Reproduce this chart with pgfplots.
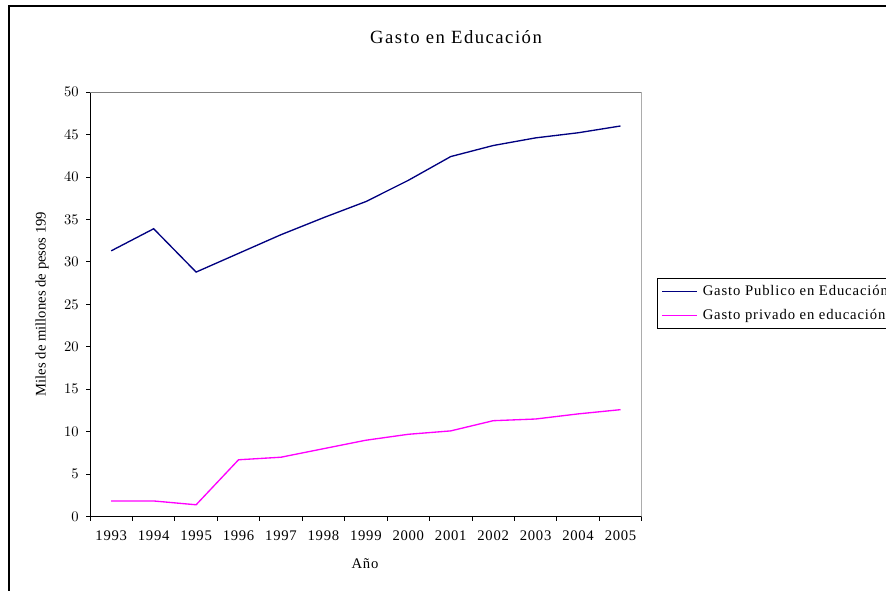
\documentclass[border=0pt]{standalone}
\usepackage{pgfplots}
\pgfplotsset{compat=1.18}
\usepackage{fontspec}
\setmainfont{Liberation Serif}
\newfontfamily\smallfont[LetterSpace=5]{Liberation Serif}
\newfontfamily\legendfont[LetterSpace=6]{Liberation Serif}
\newfontfamily\titlefont[LetterSpace=8]{Liberation Serif}

\definecolor{publico}{RGB}{0,0,128}
\definecolor{privado}{RGB}{255,0,255}
\definecolor{marco}{RGB}{128,128,128}

% legend sample: a plain line segment
\pgfplotsset{long line legend/.style={
  legend image code/.code={\draw[##1, line width=1pt] (0pt,0pt) -- (26pt,0pt);}}}

\begin{document}
\begin{tikzpicture}
\begin{scope}[x=0.75pt,y=-0.75pt]
  \useasboundingbox (0,0) rectangle (886,590);
  \clip (0,0) rectangle (886,590);
  % outer chart frame
  \draw[line width=1.1pt] (9,700) -- (9,6) -- (1000,6);
  \node[font=\titlefont\fontsize{14}{16}\selectfont] at (456,37) {Gasto en Educación};
  \node[font=\smallfont\fontsize{11}{13}\selectfont] at (365,564) {Año};
  \begin{scope}
    \clip (0,212) rectangle (80,600);
    \node[font=\rmfamily\fontsize{11}{13}\selectfont, rotate=90] at (42,304) {Miles de millones de pesos 199};
  \end{scope}
\end{scope}
\clip (0,0) rectangle (664.5pt,-442.5pt);
\begin{axis}[
  at={(67.5pt,-387.5pt)}, anchor=south west,
  scale only axis, width=413.8pt, height=318.5pt,
  xmin=0.5, xmax=13.5, ymin=0, ymax=50,
  axis x line*=bottom, axis y line*=left,
  axis line style={black, line width=0.6pt},
  xtick={1,...,13},
  xticklabels={1993,1994,1995,1996,1997,1998,1999,2000,2001,2002,2003,2004,2005},
  minor xtick={0.5,1.5,...,13.5},
  ytick={0,5,...,50},
  tick align=outside,
  major x tick style={draw=none},
  minor tick length=3pt, major tick length=3pt,
  tick style={black, line width=0.6pt},
  tick label style={font=\smallfont\fontsize{11}{13}\selectfont},
  every x tick label/.append style={yshift=-4pt},
  every y tick label/.append style={xshift=-2pt},
  long line legend,
  legend style={at={(rel axis cs:1.0277,0.502)}, anchor=west, draw=black, line width=0.6pt,
    font=\legendfont\fontsize{11}{13}\selectfont, inner xsep=3pt, inner ysep=3pt,
    row sep=5pt, column sep=2pt, cells={anchor=west}},
]
\draw[marco, line width=0.6pt] (rel axis cs:0,1) -- (rel axis cs:1,1) -- (rel axis cs:1,0);
\addplot[draw=publico, line width=1pt] coordinates {
  (1,31.3) (2,33.9) (3,28.8) (4,31.0) (5,33.2) (6,35.2) (7,37.1)
  (8,39.6) (9,42.4) (10,43.7) (11,44.6) (12,45.2) (13,46.0)};
\addlegendentry{Gasto Publico en Educación}
\addplot[draw=privado, line width=1pt] coordinates {
  (1,1.85) (2,1.85) (3,1.4) (4,6.7) (5,7.0) (6,8.0) (7,9.0)
  (8,9.7) (9,10.1) (10,11.3) (11,11.5) (12,12.1) (13,12.6)};
\addlegendentry{Gasto privado en educación}
\end{axis}
\end{tikzpicture}
\end{document}
